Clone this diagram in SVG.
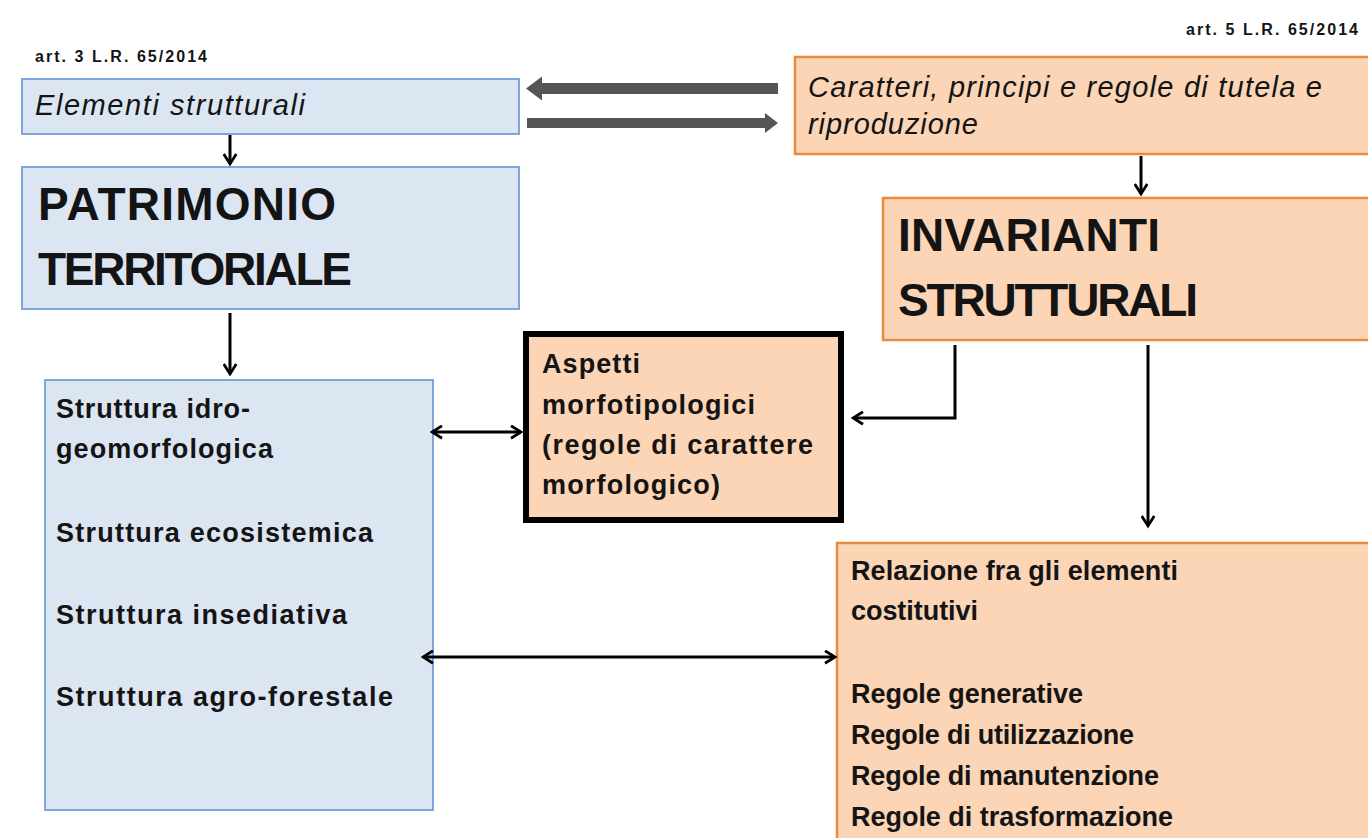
<svg xmlns="http://www.w3.org/2000/svg" width="1368" height="838" viewBox="0 0 1368 838">
<style>
.blue{fill:#dce6f2;stroke:#7ea6d8;stroke-width:2}
.orange{fill:#fbd5b5;stroke:#e98a3c;stroke-width:2.5}
.t{font-family:"Liberation Sans",Arial,sans-serif;fill:#141414}
.small{font-size:16px;font-weight:bold}
.it{font-size:29px;font-style:italic}
.big{font-size:46px;font-weight:bold}
.b{font-size:27px;font-weight:bold}
.con{stroke:#000;stroke-width:3;fill:none}
.gray{fill:#555555}
</style>
<defs>
<marker id="ah" viewBox="0 0 12 12" refX="10" refY="6" markerWidth="5" markerHeight="5" orient="auto-start-reverse" markerUnits="strokeWidth">
<path d="M2,1 L10,6 L2,11" fill="none" stroke="#000" stroke-width="2.2"/>
</marker>
</defs>
<rect width="1368" height="838" fill="#fff"/>
<text class="t small" x="35" y="62" textLength="172" lengthAdjust="spacing">art. 3 L.R. 65/2014</text>
<text class="t small" x="1186" y="35" textLength="172" lengthAdjust="spacing">art. 5 L.R. 65/2014</text>
<g id="elementi">
<rect class="blue" x="22" y="79" width="497" height="55"/>
<text class="t it" x="35" y="115" textLength="270" lengthAdjust="spacing">Elementi strutturali</text>
</g>
<g id="caratteri">
<rect class="orange" x="795" y="57" width="580" height="97"/>
<text class="t it" x="808" y="97" textLength="514" lengthAdjust="spacing">Caratteri, principi e regole di tutela e</text>
<text class="t it" x="808" y="134" textLength="170" lengthAdjust="spacing">riproduzione</text>
</g>
<g id="patrimonio">
<rect class="blue" x="22" y="167" width="497" height="142"/>
<text class="t big" x="38" y="220" textLength="298" lengthAdjust="spacing">PATRIMONIO</text>
<text class="t big" x="38" y="285" textLength="314" lengthAdjust="spacing">TERRITORIALE</text>
</g>
<g id="strutture">
<rect class="blue" x="45" y="380" width="388" height="430"/>
<text class="t b" x="56" y="418" textLength="194" lengthAdjust="spacing">Struttura idro-</text>
<text class="t b" x="56" y="458" textLength="217" lengthAdjust="spacing">geomorfologica</text>
<text class="t b" x="56" y="542" textLength="317" lengthAdjust="spacing">Struttura ecosistemica</text>
<text class="t b" x="56" y="624" textLength="291" lengthAdjust="spacing">Struttura insediativa</text>
<text class="t b" x="56" y="706" textLength="337" lengthAdjust="spacing">Struttura agro-forestale</text>
</g>
<g id="invarianti">
<rect class="orange" x="883" y="198" width="490" height="142"/>
<text class="t big" x="898" y="251" textLength="262" lengthAdjust="spacing">INVARIANTI</text>
<text class="t big" x="898" y="316" textLength="300" lengthAdjust="spacing">STRUTTURALI</text>
</g>
<g id="aspetti">
<rect x="526" y="334" width="315" height="186" fill="#fbd5b5" stroke="#000" stroke-width="6"/>
<text class="t b" x="542" y="373" textLength="98" lengthAdjust="spacing">Aspetti</text>
<text class="t b" x="542" y="414" textLength="213" lengthAdjust="spacing">morfotipologici</text>
<text class="t b" x="542" y="454" textLength="271" lengthAdjust="spacing">(regole di carattere</text>
<text class="t b" x="542" y="494" textLength="178" lengthAdjust="spacing">morfologico)</text>
</g>
<g id="regole">
<rect class="orange" x="837" y="543" width="540" height="310"/>
<text class="t b" x="851" y="580" textLength="327" lengthAdjust="spacing">Relazione fra gli elementi</text>
<text class="t b" x="851" y="620" textLength="127" lengthAdjust="spacing">costitutivi</text>
<text class="t b" x="851" y="703" textLength="232" lengthAdjust="spacing">Regole generative</text>
<text class="t b" x="851" y="744" textLength="283" lengthAdjust="spacing">Regole di utilizzazione</text>
<text class="t b" x="851" y="785" textLength="308" lengthAdjust="spacing">Regole di manutenzione</text>
<text class="t b" x="851" y="826" textLength="322" lengthAdjust="spacing">Regole di trasformazione</text>
</g>
<g id="connectors">
<polygon class="gray" points="526,88.5 542,76.5 542,83 778,83 778,94 542,94 542,100.5"/>
<polygon class="gray" points="778,123 765,113 765,118 527,118 527,128 765,128 765,133"/>
<line class="con" x1="230" y1="135" x2="230" y2="164" marker-end="url(#ah)"/>
<line class="con" x1="230" y1="313" x2="230" y2="374" marker-end="url(#ah)"/>
<line class="con" x1="1141" y1="156" x2="1141" y2="194" marker-end="url(#ah)"/>
<line class="con" x1="432" y1="432" x2="521" y2="432" marker-start="url(#ah)" marker-end="url(#ah)"/>
<polyline class="con" points="955,345 955,418 853,418" marker-end="url(#ah)"/>
<line class="con" x1="1148" y1="345" x2="1148" y2="526" marker-end="url(#ah)"/>
<line class="con" x1="423" y1="657" x2="835" y2="657" marker-start="url(#ah)" marker-end="url(#ah)"/>
</g>
</svg>
